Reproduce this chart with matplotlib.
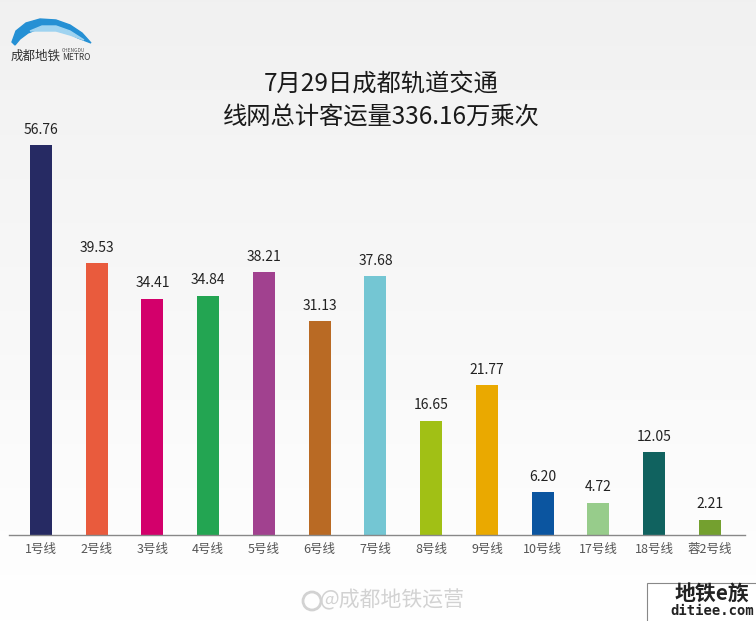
import numpy as np
import matplotlib.pyplot as plt
from matplotlib.patches import Rectangle, Polygon, Circle

plt.rcParams['font.family'] = ['Noto Sans CJK SC', 'DejaVu Sans']

# data
lines = ["1号线", "2号线", "3号线", "4号线", "5号线", "6号线", "7号线",
         "8号线", "9号线", "10号线", "17号线", "18号线", "蓉2号线"]
volumes = [56.76, 39.53, 34.41, 34.84, 38.21, 31.13, 37.68,
           16.65, 21.77, 6.20, 4.72, 12.05, 2.21]
colors = ["#262a63", "#e95b3d", "#d3006b", "#23a552", "#a1418f", "#b96a24",
          "#74c6d3", "#a1c015", "#eaa900", "#0b55a0", "#97cc8b", "#10625f", "#74a02f"]
title = "7月29日成都轨道交通\n线网总计客运量336.16万乘次"

W, H = 756, 621
fig = plt.figure(figsize=(W / 100, H / 100), dpi=100)

# background gradient, light grey on top to white
bg = fig.add_axes([0, 0, 1, 1])
grad = np.linspace(0.945, 1.0, 256).reshape(-1, 1)
bg.imshow(np.dstack([grad, grad, grad]), aspect='auto', extent=[0, W, H, 0])
bg.set_xlim(0, W)
bg.set_ylim(H, 0)
bg.axis('off')

# logo swoosh (rough)
outer = [[12, 42], [16, 31], [26, 23], [40, 19], [56, 20], [70, 25], [82, 33], [91, 43]]
inner = [[78, 38], [64, 31], [50, 28], [38, 29], [28, 33], [20, 39], [15, 45]]
bg.add_patch(Polygon(outer + inner, closed=True, color="#2590d4"))
bg.add_patch(Polygon([[30, 31], [42, 26], [56, 26], [70, 31], [84, 40],
                      [70, 35], [56, 31], [42, 31]], closed=True, color="#9fd3f0"))
bg.text(11, 56, "成都地铁", fontsize=9, color="#333333", va='center')
bg.text(62, 51, "CHENGDU", fontsize=3.5, color="#555555", va='center')
bg.text(62, 58, "METRO", fontsize=6, color="#333333", va='center')

# title
bg.text(381, 101, title, fontsize=17.5, color="#1a1a1a", ha='center', va='center',
        linespacing=1.4)

# watermark and stamp
bg.add_patch(Circle((312, 601), 9, facecolor="none", edgecolor="#d2d2d2", lw=2))
bg.text(392, 600, "@成都地铁运营", fontsize=15, color="#d2d2d2", ha='center', va='center')
bg.add_patch(Rectangle((647, 583), 110, 40, facecolor="white", edgecolor="#888888", lw=0.8))
bg.text(712, 594, "地铁e族", fontsize=15, color="#222222", ha='center', va='center',
        fontweight='bold')
bg.text(712, 611, "ditiee.com", fontsize=10, color="#222222", ha='center', va='center',
        family='DejaVu Sans Mono', fontweight='bold')

# main chart
x0, x1 = 9, 745
y_base, y_top = 535, 100
ax = fig.add_axes([x0 / W, (H - y_base) / H, (x1 - x0) / W, (y_base - y_top) / H])
ax.patch.set_alpha(0)
spacing = (710 - 41) / 12
xs = np.arange(len(lines))
ax.bar(xs, volumes, width=22 / spacing, color=colors)
ax.set_xlim(-(41 - x0) / spacing, 12 + (x1 - 710) / spacing)
ax.set_ylim(0, 56.76 * (y_base - y_top) / (y_base - 145))

for x, v in zip(xs, volumes):
    ax.annotate(f"{v:.2f}", (x, v), xytext=(0, 6), textcoords='offset points',
                ha='center', va='bottom', fontsize=10, color="#222222")

ax.set_xticks(xs)
ax.set_xticklabels(lines, fontsize=9, color="#555555")
ax.tick_params(axis='x', length=0, pad=6)
ax.set_yticks([])
for s in ['top', 'right', 'left']:
    ax.spines[s].set_visible(False)
ax.spines['bottom'].set_color("#888888")
ax.spines['bottom'].set_linewidth(1)

fig.savefig("out.png", dpi=100)
